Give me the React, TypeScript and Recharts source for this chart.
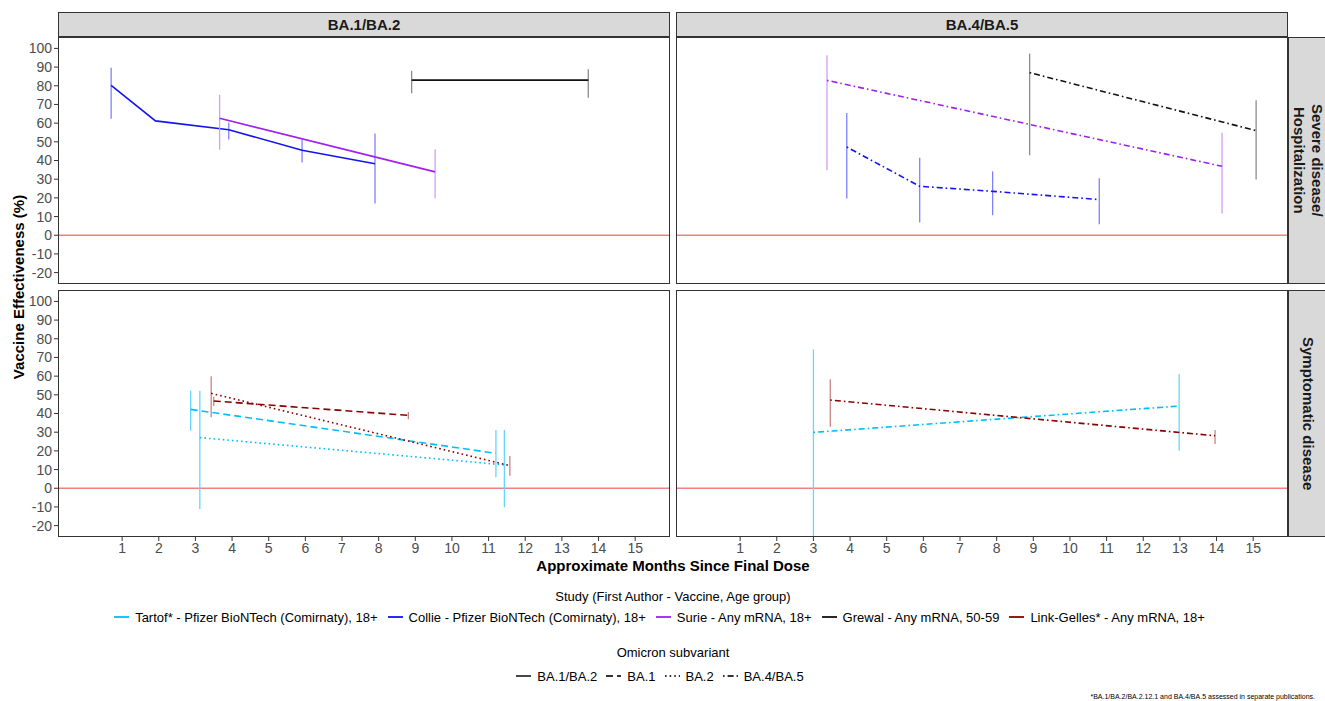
import React from 'react';
import { LineChart, Line, XAxis, YAxis, ErrorBar, ReferenceLine } from 'recharts';

// ---------- axis settings ----------
const monthTicks = [1, 2, 3, 4, 5, 6, 7, 8, 9, 10, 11, 12, 13, 14, 15];
const veTicks = [-20, -10, 0, 10, 20, 30, 40, 50, 60, 70, 80, 90, 100];
const monthDomain = [-0.75, 15.95];
const veDomain = [-26.1, 106.1];

// ---------- data (month, vaccine effectiveness, CI low, CI high) ----------
// Severe disease / Hospitalization — BA.1/BA.2
const collieSevereBA12 = [
  { month: 0.7, ve: 80.2, lo: 62.4, hi: 89.7 },
  { month: 1.91, ve: 61.2, lo: null, hi: null },
  { month: 3.91, ve: 56.5, lo: 51.2, hi: 60.3 },
  { month: 5.91, ve: 45.5, lo: 38.9, hi: 51.3 },
  { month: 7.9, ve: 38.3, lo: 17.0, hi: 54.4 },
];
const surieSevereBA12 = [
  { month: 3.66, ve: 62.6, lo: 45.8, hi: 75.2 },
  { month: 9.54, ve: 33.9, lo: 19.6, hi: 46.0 },
];
const grewalSevereBA12 = [
  { month: 8.9, ve: 83.0, lo: 76.0, hi: 88.0 },
  { month: 13.72, ve: 83.0, lo: 73.6, hi: 88.8 },
];
// Severe disease / Hospitalization — BA.4/BA.5
const surieSevereBA45 = [
  { month: 3.37, ve: 82.9, lo: 34.8, hi: 96.3 },
  { month: 14.15, ve: 36.9, lo: 11.6, hi: 54.9 },
];
const collieSevereBA45 = [
  { month: 3.91, ve: 47.2, lo: 19.6, hi: 65.4 },
  { month: 5.9, ve: 26.2, lo: 6.8, hi: 41.5 },
  { month: 7.89, ve: 23.5, lo: 10.7, hi: 34.2 },
  { month: 10.8, ve: 19.1, lo: 5.9, hi: 30.5 },
];
const grewalSevereBA45 = [
  { month: 8.9, ve: 87.0, lo: 42.8, hi: 97.2 },
  { month: 15.08, ve: 56.0, lo: 29.8, hi: 72.2 },
];
// Symptomatic disease — BA.1/BA.2 panel
const tartofSymBA1 = [
  { month: 2.87, ve: 42.2, lo: 30.8, hi: 52.2 },
  { month: 11.2, ve: 18.7, lo: 5.9, hi: 31.2 },
];
const tartofSymBA2 = [
  { month: 3.12, ve: 27.1, lo: -11.1, hi: 52.2 },
  { month: 11.43, ve: 12.5, lo: -10.2, hi: 31.2 },
];
const linkSymBA1 = [
  { month: 3.5, ve: 46.7, lo: 44.0, hi: 49.0 },
  { month: 8.81, ve: 39.0, lo: 36.9, hi: 40.8 },
];
const linkSymBA2 = [
  { month: 3.43, ve: 50.8, lo: 38.0, hi: 60.0 },
  { month: 11.58, ve: 12.1, lo: 6.7, hi: 17.3 },
];
// Symptomatic disease — BA.4/BA.5
const tartofSymBA45 = [
  { month: 3.0, ve: 29.9, lo: -26.0, hi: 74.3 },
  { month: 12.98, ve: 44.0, lo: 20.1, hi: 61.1 },
];
const linkSymBA45 = [
  { month: 3.46, ve: 47.2, lo: 32.9, hi: 58.3 },
  { month: 13.96, ve: 28.1, lo: 23.7, hi: 31.2 },
];

// ---------- legend labels ----------
const studyLabels = [
  'Tartof* - Pfizer BioNTech (Comirnaty), 18+',
  'Collie - Pfizer BioNTech (Comirnaty), 18+',
  'Surie - Any mRNA, 18+',
  'Grewal - Any mRNA, 50-59',
  'Link-Gelles* - Any mRNA, 18+',
];
const variantLabels = ['BA.1/BA.2', 'BA.1', 'BA.2', 'BA.4/BA.5'];
const columnLabels = ['BA.1/BA.2', 'BA.4/BA.5'];
const rowLabels = [['Severe disease/', 'Hospitalization'], ['Symptomatic disease']];

// ---------- styles ----------
const studyColors = ['#00BFFF', '#1414F0', '#A020F0', '#111111', '#8B0000'];
const studyCiColors = ['#66D6FF', '#8080FF', '#D79CF8', '#8C8C8C', '#C98585'];
const variantDash = ['', '7 4', '1.6 3', '1.6 3 6 3'];

const FONT = '"Liberation Sans", Arial, Helvetica, sans-serif';

type Pt = { month: number; ve: number; lo: number | null; hi: number | null };
type SeriesDef = { key: string; data: Pt[]; study: number; variant: number };

const prep = (d: Pt[]) =>
  d.map((p) => ({
    ...p,
    err: p.lo == null || p.hi == null ? [0, 0] : [p.ve - p.lo, p.hi - p.ve],
  }));

const panels: { left: number; top: number; showX: boolean; showY: boolean; series: SeriesDef[] }[] = [
  {
    left: 0, top: 37, showX: false, showY: true,
    series: [
      { key: 'collie', data: collieSevereBA12, study: 1, variant: 0 },
      { key: 'surie', data: surieSevereBA12, study: 2, variant: 0 },
      { key: 'grewal', data: grewalSevereBA12, study: 3, variant: 0 },
    ],
  },
  {
    left: 676, top: 37, showX: false, showY: false,
    series: [
      { key: 'surie', data: surieSevereBA45, study: 2, variant: 3 },
      { key: 'collie', data: collieSevereBA45, study: 1, variant: 3 },
      { key: 'grewal', data: grewalSevereBA45, study: 3, variant: 3 },
    ],
  },
  {
    left: 0, top: 290, showX: true, showY: true,
    series: [
      { key: 'tartof1', data: tartofSymBA1, study: 0, variant: 1 },
      { key: 'tartof2', data: tartofSymBA2, study: 0, variant: 2 },
      { key: 'link1', data: linkSymBA1, study: 4, variant: 1 },
      { key: 'link2', data: linkSymBA2, study: 4, variant: 2 },
    ],
  },
  {
    left: 676, top: 290, showX: true, showY: false,
    series: [
      { key: 'tartof45', data: tartofSymBA45, study: 0, variant: 3 },
      { key: 'link45', data: linkSymBA45, study: 4, variant: 3 },
    ],
  },
];

const PANEL_H = 247;
const PLOT_W = 612;
const YAXIS_W = 58;
const XAXIS_H = 24;

function Panel({ left, top, showX, showY, series }: (typeof panels)[number]) {
  const width = PLOT_W + (showY ? YAXIS_W : 0);
  const height = PANEL_H + (showX ? XAXIS_H : 0);
  const plotLeft = left + (showY ? YAXIS_W : 0);
  return (
    <>
      <div style={{ position: 'absolute', left, top, width, height }}>
        <LineChart width={width} height={height} margin={{ top: 0, right: 0, bottom: 0, left: 0 }}>
          <XAxis
            type="number"
            dataKey="month"
            domain={monthDomain}
            ticks={monthTicks}
            allowDataOverflow
            hide={!showX}
            height={XAXIS_H}
            axisLine={false}
            tickSize={4}
            tickLine={{ stroke: '#333333' }}
            tick={{ fill: '#4D4D4D', fontSize: 14, fontFamily: FONT }}
            interval={0}
          />
          <YAxis
            type="number"
            dataKey="ve"
            domain={veDomain}
            ticks={veTicks}
            allowDataOverflow
            hide={!showY}
            width={YAXIS_W}
            axisLine={false}
            tickSize={4}
            tickLine={{ stroke: '#333333' }}
            tick={{ fill: '#4D4D4D', fontSize: 14, fontFamily: FONT }}
            interval={0}
          />
          <ReferenceLine y={0} stroke="#F28080" strokeWidth={1.3} />
          {series.map((s) => (
            <Line
              key={s.key}
              data={prep(s.data)}
              dataKey="ve"
              type="linear"
              stroke={studyColors[s.study]}
              strokeWidth={1.6}
              strokeDasharray={variantDash[s.variant] || undefined}
              dot={false}
              activeDot={false}
              isAnimationActive={false}
            >
              <ErrorBar dataKey="err" direction="y" width={0} stroke={studyCiColors[s.study]} strokeWidth={1.3} />
            </Line>
          ))}
        </LineChart>
      </div>
      <div
        style={{
          position: 'absolute',
          left: plotLeft,
          top,
          width: PLOT_W,
          height: PANEL_H,
          border: '1.3px solid #333333',
          boxSizing: 'border-box',
          pointerEvents: 'none',
        }}
      />
    </>
  );
}

function LegendKey({ color, dash }: { color: string; dash?: string }) {
  return (
    <svg width={15} height={10} style={{ marginRight: 6, flex: 'none' }}>
      <line x1={0} y1={5} x2={15} y2={5} stroke={color} strokeWidth={1.8} strokeDasharray={dash || undefined} />
    </svg>
  );
}

export default function App() {
  return (
    <div
      style={{
        position: 'absolute',
        left: 0,
        top: 0,
        width: 1325,
        height: 701,
        overflow: 'hidden',
        background: '#FFFFFF',
        fontFamily: FONT,
        color: '#000',
      }}
    >
      {/* column strips */}
      {columnLabels.map((lab, i) => (
        <div
          key={lab}
          style={{
            position: 'absolute',
            left: i === 0 ? YAXIS_W : 676,
            top: 12,
            width: PLOT_W,
            height: 25,
            background: '#D9D9D9',
            border: '1.3px solid #333333',
            boxSizing: 'border-box',
            display: 'flex',
            alignItems: 'center',
            justifyContent: 'center',
            fontWeight: 'bold',
            fontSize: 15,
            color: '#1A1A1A',
          }}
        >
          {lab}
        </div>
      ))}
      {/* row strips */}
      {rowLabels.map((lines, i) => (
        <div
          key={i}
          style={{
            position: 'absolute',
            left: 1288,
            top: i === 0 ? 37 : 290,
            width: 40,
            height: PANEL_H,
            background: '#D9D9D9',
            border: '1.3px solid #333333',
            boxSizing: 'border-box',
            display: 'flex',
            alignItems: 'center',
            justifyContent: 'center',
          }}
        >
          <div
            style={{
              writingMode: 'vertical-rl',
              textAlign: 'center',
              fontWeight: 'bold',
              fontSize: 15,
              lineHeight: '18px',
              color: '#1A1A1A',
              whiteSpace: 'nowrap',
            }}
          >
            {lines.map((l, j) => (
              <div key={j}>{l}</div>
            ))}
          </div>
        </div>
      ))}
      {panels.map((p, i) => (
        <Panel key={i} {...p} />
      ))}
      {/* axis titles */}
      <div
        style={{
          position: 'absolute',
          left: 18,
          top: 287,
          transform: 'translate(-50%, -50%) rotate(-90deg)',
          whiteSpace: 'nowrap',
          fontWeight: 'bold',
          fontSize: 15,
        }}
      >
        Vaccine Effectiveness (%)
      </div>
      <div
        style={{
          position: 'absolute',
          left: 673,
          top: 565,
          transform: 'translate(-50%, -50%)',
          whiteSpace: 'nowrap',
          fontWeight: 'bold',
          fontSize: 15,
        }}
      >
        Approximate Months Since Final Dose
      </div>
      {/* study legend */}
      <div style={{ position: 'absolute', left: 673, top: 596, transform: 'translate(-50%, -50%)', whiteSpace: 'nowrap', fontSize: 13 }}>
        Study (First Author - Vaccine, Age group)
      </div>
      <div
        style={{
          position: 'absolute',
          left: 0,
          width: 1325,
          top: 608,
          height: 18,
          display: 'flex',
          justifyContent: 'center',
          alignItems: 'center',
          fontSize: 13,
          whiteSpace: 'nowrap',
          paddingLeft: 4,
          boxSizing: 'border-box',
        }}
      >
        {studyLabels.map((lab, i) => (
          <div key={lab} style={{ display: 'flex', alignItems: 'center', marginRight: 10 }}>
            <LegendKey color={studyColors[i]} />
            <span>{lab}</span>
          </div>
        ))}
      </div>
      {/* variant legend */}
      <div style={{ position: 'absolute', left: 673, top: 652, transform: 'translate(-50%, -50%)', whiteSpace: 'nowrap', fontSize: 13 }}>
        Omicron subvariant
      </div>
      <div
        style={{
          position: 'absolute',
          left: 0,
          width: 1325,
          top: 667,
          height: 18,
          display: 'flex',
          justifyContent: 'center',
          alignItems: 'center',
          fontSize: 13,
          whiteSpace: 'nowrap',
          paddingLeft: 4,
          boxSizing: 'border-box',
        }}
      >
        {variantLabels.map((lab, i) => (
          <div key={lab} style={{ display: 'flex', alignItems: 'center', marginRight: 9 }}>
            <LegendKey color="#333333" dash={variantDash[i]} />
            <span>{lab}</span>
          </div>
        ))}
      </div>
      <div
        style={{
          position: 'absolute',
          right: 10,
          top: 693,
          fontSize: 7,
          whiteSpace: 'nowrap',
          lineHeight: '8px',
        }}
      >
        *BA.1/BA.2/BA.2.12.1 and BA.4/BA.5 assessed in separate publications.
      </div>
    </div>
  );
}
